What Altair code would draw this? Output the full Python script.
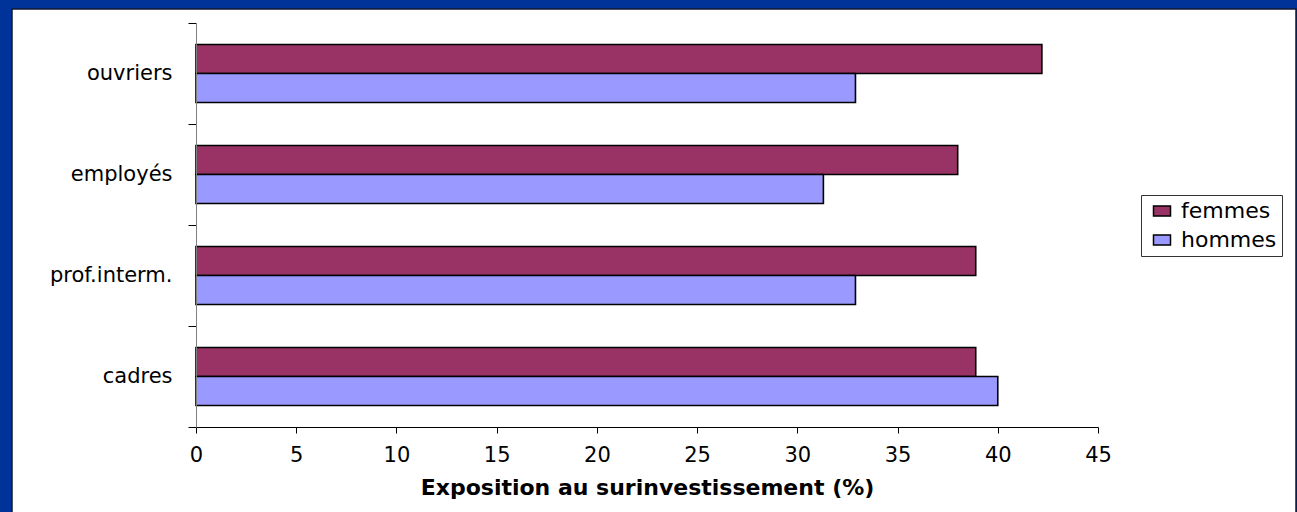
import altair as alt
import pandas as pd

# Exposure to over-commitment at work, by occupational group and sex (%)
categories = ["ouvriers", "employés", "prof.interm.", "cadres"]
femmes = [42.2, 38.0, 38.9, 38.9]
hommes = [32.9, 31.3, 32.9, 40.0]
series = ["femmes", "hommes"]
series_colors = ["#993366", "#9999ff"]
x_ticks = [0, 5, 10, 15, 20, 25, 30, 35, 40, 45]

rows = []
for cat, f, h in zip(categories, femmes, hommes):
    rows.append({"categorie": cat, "sexe": "femmes", "valeur": f})
    rows.append({"categorie": cat, "sexe": "hommes", "valeur": h})
df = pd.DataFrame(rows)

FONT = "DejaVu Sans"
W, H = 902, 404
PAD = {"left": 196, "top": 23, "right": 199, "bottom": 85}

# white slide panel behind the chart
panel = alt.Chart(alt.Data(values=[{"p": 1}])).mark_rect(
    fill="white", stroke="#111a33", strokeWidth=1.5
).encode(
    x=alt.value(12 - PAD["left"]),
    x2=alt.value(1296 - PAD["left"]),
    y=alt.value(9 - PAD["top"]),
    y2=alt.value(530 - PAD["top"]),
)

bars = alt.Chart(df).mark_bar(stroke="black", strokeWidth=1.6).encode(
    x=alt.X(
        "valeur:Q",
        scale=alt.Scale(domain=[0, 45], nice=False),
        axis=alt.Axis(
            values=x_ticks,
            title="Exposition au surinvestissement (%)",
            grid=False,
            zindex=1,
            labelFlush=False,
            domainColor="black",
            tickColor="black",
            tickSize=6,
            labelPadding=11,
            labelFont=FONT,
            labelFontSize=21,
            labelColor="black",
            titleFont=FONT,
            titleFontSize=22,
            titleFontWeight="bold",
            titleColor="black",
            titlePadding=12,
        ),
    ),
    y=alt.Y(
        "categorie:N",
        sort=categories,
        scale=alt.Scale(paddingInner=0, paddingOuter=0),
        axis=alt.Axis(
            title=None,
            tickBand="extent",
            grid=False,
            zindex=1,
            domainColor="#808080",
            tickColor="black",
            tickSize=8,
            labelPadding=16,
            labelFont=FONT,
            labelFontSize=21,
            labelColor="black",
        ),
    ),
    yOffset=alt.YOffset(
        "sexe:N",
        sort=series,
        scale=alt.Scale(paddingInner=0, paddingOuter=0.74),
    ),
    color=alt.Color(
        "sexe:N",
        scale=alt.Scale(domain=series, range=series_colors),
        legend=alt.Legend(
            title=None,
            orient="none",
            legendX=945,
            legendY=172,
            padding=5,
            rowPadding=7,
            symbolOffset=5,
            labelOffset=8,
            symbolType="M -1 -0.6 L 1 -0.6 L 1 0.6 L -1 0.6 Z",
            symbolSize=289,
            symbolStrokeColor="black",
            symbolStrokeWidth=1.5,
            labelFont=FONT,
            labelFontSize=22,
            labelColor="black",
            strokeColor="#333333",
            fillColor="white",
            cornerRadius=0,
        ),
    ),
)

chart = alt.layer(panel, bars).properties(
    width=W,
    height=H,
    padding=PAD,
    autosize=alt.AutoSizeParams(type="none"),
    background="#003399",
).configure_view(stroke="transparent")

chart.save("out.html", embed_options={"renderer": "svg", "actions": False})
